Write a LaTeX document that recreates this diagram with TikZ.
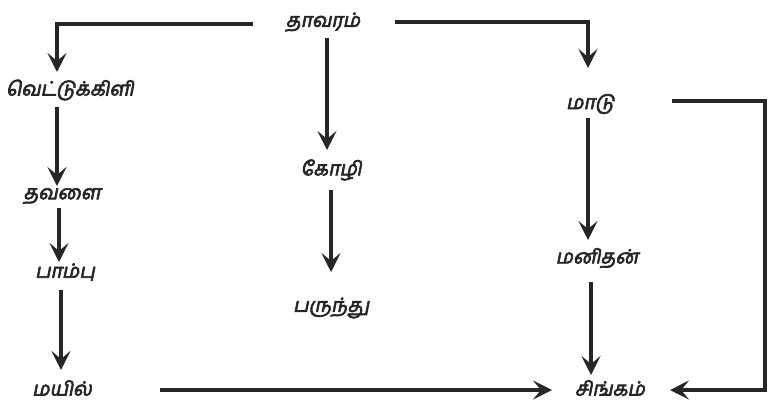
\documentclass[tikz,border=0pt]{standalone}
\usepackage{fontspec}
\newfontfamily\tamil[Script=Tamil,FakeSlant=0.2,FakeBold=3.5]{Hind Madurai}
\definecolor{ink}{HTML}{262626}
\usetikzlibrary{arrows.meta}
\begin{document}
\begin{tikzpicture}[x=1pt,y=-1pt,
    sp/.style={font=\tamil\fontsize{19.5}{22}\selectfont,text=ink,inner sep=0pt},
    link/.style={draw=ink,line width=3.2pt,-{Stealth[length=19pt,width=19pt,inset=8pt]}}]
    \useasboundingbox (0,0) rectangle (771,407);
    \foreach \n/\x/\y/\t in {thavaram/323/22/தாவரம், vettu/70/90/வெட்டுக்கிளி, thavalai/62/196/தவளை,
      pambu/65/272/பாம்பு, mayil/62/388/மயில், kozhi/331/170/கோழி, parundhu/331/308/பருந்து,
      maadu/590/104/மாடு, manithan/597/258/மனிதன், singam/610/388/சிங்கம்}
      \node[sp] (\n) at (\x,\y) {\t};
    \draw[link] ([xshift=-70pt,yshift=-2pt]thavaram.center) -| ([xshift=-13pt,yshift=18pt]vettu.center);
    \draw[link] ([xshift=72pt]thavaram.center) -| ([xshift=-2pt,yshift=36pt]maadu.center);
    \draw[link] ([xshift=4pt,yshift=-16pt]thavaram.center) -- ([xshift=-4pt,yshift=20pt]kozhi.center);
    \draw[link] ([yshift=-20pt]kozhi.center) -- ([yshift=36pt]parundhu.center);
    \draw[link] ([xshift=-13pt,yshift=-17pt]vettu.center) -- ([xshift=-5pt,yshift=10pt]thavalai.center);
    \draw[link] ([xshift=-3pt,yshift=-12pt]thavalai.center) -- ([xshift=-6pt,yshift=10pt]pambu.center);
    \draw[link] ([xshift=-4pt,yshift=-18pt]pambu.center) -- ([xshift=-1pt,yshift=18pt]mayil.center);
    \draw[link] ([xshift=98pt,yshift=-2pt]mayil.center) -- ([xshift=-58pt,yshift=-2pt]singam.center);
    \draw[link] ([xshift=-2pt,yshift=-14pt]maadu.center) -- ([xshift=-9pt,yshift=18pt]manithan.center);
    \draw[link] ([xshift=-6pt,yshift=-24pt]manithan.center) -- ([xshift=-19pt,yshift=13pt]singam.center);
    \draw[link] ([xshift=82pt,yshift=3pt]maadu.center) -| ([xshift=155pt,yshift=-2pt]singam.center)
      -- ([xshift=60pt,yshift=-2pt]singam.center);
  \end{tikzpicture}
\end{document}
